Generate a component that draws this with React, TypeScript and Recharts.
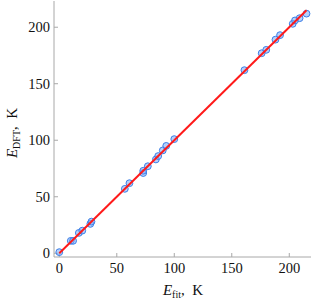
import React from 'react';
import { ScatterChart, Scatter, XAxis, YAxis, ZAxis } from 'recharts';

// E_fit (K)
const eFit = [0, 10, 12, 17, 20, 27, 28, 57, 61, 73, 73, 77, 84, 86, 90, 93, 100, 161, 176, 180, 188, 192, 203, 205, 209, 215];
// E_DFT (K)
const eDft = [1, 11, 11, 18, 20, 26, 28, 57, 62, 71, 73, 77, 83, 86, 91, 95, 101, 162, 177, 180, 189, 193, 203, 206, 208, 212];
// y = x fit line
const fitX = [0, 215];
const fitY = [0, 215];

const ticks = [0, 50, 100, 150, 200];
const xDomain: [number, number] = [-4.6, 218.9];
const yDomain: [number, number] = [-3.3, 223.2];

const points = eFit.map((x, i) => ({ x, y: eDft[i] }));
const fitLine = fitX.map((x, i) => ({ x, y: fitY[i] }));

const axisColor = '#a8a8a8';
const fontFamily = '"Liberation Serif", "DejaVu Serif", serif';

const Dot = (props: any) => {
  const { cx, cy } = props;
  if (cx == null || cy == null) return null;
  return <circle cx={cx} cy={cy} r={3.4} fill="rgba(120,172,250,0.55)" stroke="#3d7fe6" strokeWidth={1} />;
};

export default function App() {
  return (
    <div style={{ position: 'absolute', left: 0, top: 0, width: 312, height: 308 }}>
      <ScatterChart width={312} height={308} margin={{ top: 1, right: 1, left: 0, bottom: 0 }}>
        <XAxis
          type="number"
          dataKey="x"
          domain={xDomain}
          ticks={ticks}
          allowDataOverflow
          height={51}
          stroke={axisColor}
          tickSize={-4}
          tickMargin={10}
          tick={{ fill: '#111', fontSize: 14.5, fontFamily }}
        />
        <XAxis xAxisId="top" type="number" orientation="top" domain={xDomain} height={0} stroke={axisColor} tick={false} tickLine={false} />
        <YAxis
          type="number"
          dataKey="y"
          domain={yDomain}
          ticks={ticks}
          allowDataOverflow
          width={54}
          stroke={axisColor}
          tickSize={-4}
          tickMargin={8}
          tick={{ fill: '#111', fontSize: 14.5, fontFamily }}
        />
        <YAxis yAxisId="right" type="number" orientation="right" domain={yDomain} width={0} stroke={axisColor} tick={false} tickLine={false} />
        <ZAxis range={[30, 30]} />
        <Scatter data={points} shape={Dot} isAnimationActive={false} />
        <Scatter data={fitLine} line={{ stroke: '#ff1a1a', strokeWidth: 2 }} shape={() => null} isAnimationActive={false} />
      </ScatterChart>
      <svg width={312} height={308} style={{ position: 'absolute', left: 0, top: 0, pointerEvents: 'none' }}>
        <text x={183} y={295} textAnchor="middle" fontFamily={fontFamily} fontSize={15} fill="#111">
          <tspan fontStyle="italic">E</tspan>
          <tspan fontSize={10} dy={3}>fit</tspan>
          <tspan dy={-3}>{',\u00a0\u00a0K'}</tspan>
        </text>
        <text
          transform="translate(17,133) rotate(-90)"
          textAnchor="middle"
          fontFamily={fontFamily}
          fontSize={15}
          fill="#111"
        >
          <tspan fontStyle="italic">E</tspan>
          <tspan fontSize={10} dy={3}>DFT</tspan>
          <tspan dy={-3}>{',\u00a0\u00a0K'}</tspan>
        </text>
      </svg>
    </div>
  );
}
